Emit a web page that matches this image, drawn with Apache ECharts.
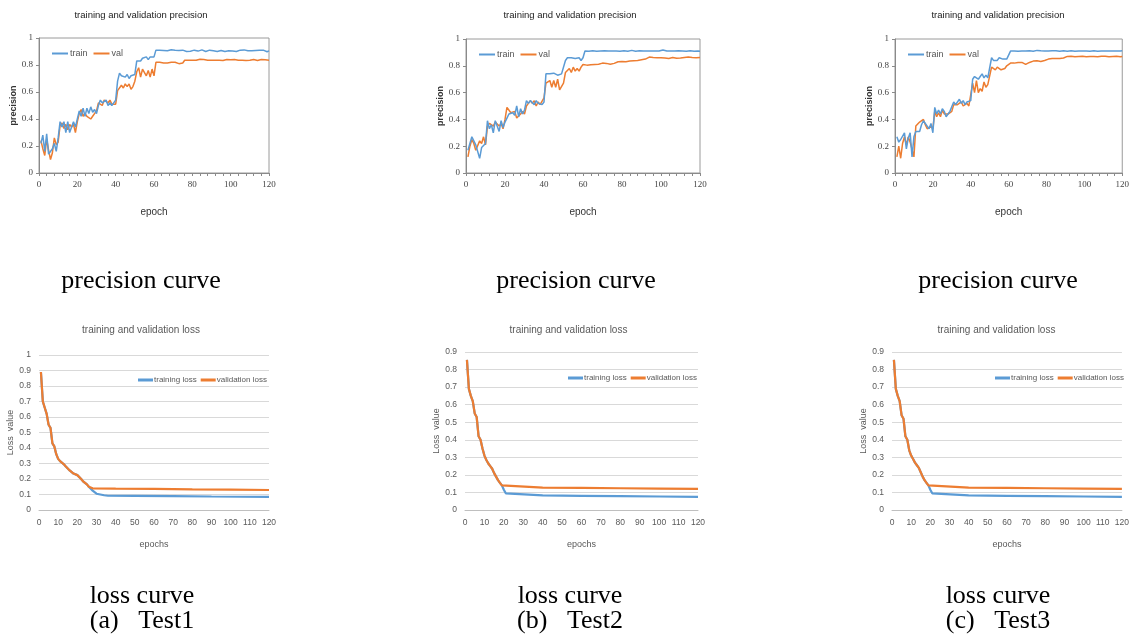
<!DOCTYPE html>
<html>
<head>
<meta charset="utf-8">
<script src="https://cdn.jsdelivr.net/npm/echarts@6/dist/echarts.min.js"></script>
<style>
html,body{margin:0;padding:0;background:#fff;}
#chart{width:1132px;height:637px;}
</style>
</head>
<body>
<div id="chart"></div>
<script>
// ---- epochs shared by the precision curves ----
const epochs = Array.from({length: 120}, (_, i) => i + 1);

// ---- Test1 precision ----
const test1Train = [
  0.22,0.28,0.16,0.29,0.14,0.13,0.18,0.22,0.16,0.26,
  0.38,0.34,0.38,0.30,0.38,0.30,0.34,0.38,0.34,0.40,
  0.46,0.42,0.48,0.42,0.48,0.44,0.49,0.45,0.47,0.44,
  0.50,0.54,0.52,0.51,0.54,0.50,0.52,0.50,0.51,0.54,
  0.68,0.74,0.72,0.73,0.71,0.73,0.70,0.72,0.71,0.73,
  0.83,0.84,0.83,0.85,0.84,0.86,0.84,0.86,0.85,0.86,
  0.91,0.905,0.91,0.903,0.908,0.91,0.905,0.91,0.913,0.915,
  0.91,0.912,0.908,0.905,0.91,0.903,0.90,0.905,0.902,0.905,
  0.91,0.905,0.903,0.91,0.912,0.905,0.90,0.905,0.91,0.903,
  0.905,0.91,0.90,0.905,0.908,0.903,0.90,0.906,0.905,0.91,
  0.903,0.905,0.90,0.908,0.91,0.905,0.912,0.915,0.905,0.903,
  0.905,0.90,0.908,0.905,0.91,0.905,0.91,0.902,0.898,0.905
];
const test1Val = [
  0.24,0.18,0.13,0.25,0.17,0.10,0.15,0.26,0.21,0.23,
  0.35,0.37,0.33,0.36,0.32,0.36,0.34,0.36,0.30,0.38,
  0.44,0.47,0.42,0.44,0.42,0.43,0.40,0.42,0.41,0.46,
  0.52,0.53,0.50,0.54,0.53,0.52,0.54,0.51,0.50,0.51,
  0.61,0.62,0.65,0.63,0.66,0.64,0.66,0.62,0.64,0.68,
  0.75,0.78,0.71,0.77,0.78,0.72,0.76,0.71,0.77,0.72,
  0.82,0.815,0.82,0.81,0.815,0.82,0.815,0.81,0.82,0.815,
  0.82,0.815,0.81,0.82,0.815,0.835,0.84,0.835,0.838,0.835,
  0.84,0.835,0.838,0.843,0.835,0.84,0.833,0.835,0.84,0.835,
  0.838,0.835,0.84,0.835,0.838,0.833,0.836,0.84,0.835,0.838,
  0.835,0.84,0.838,0.835,0.843,0.835,0.838,0.833,0.84,0.835,
  0.838,0.84,0.835,0.833,0.838,0.84,0.835,0.838,0.833,0.836
];

// ---- Test2 precision ----
const test2Train = [
  0.17,0.22,0.27,0.27,0.21,0.20,0.11,0.19,0.18,0.22,
  0.39,0.33,0.36,0.30,0.39,0.38,0.31,0.39,0.34,0.38,
  0.41,0.44,0.43,0.45,0.43,0.50,0.42,0.48,0.44,0.47,
  0.54,0.52,0.54,0.53,0.51,0.54,0.52,0.53,0.51,0.53,
  0.74,0.745,0.74,0.735,0.745,0.74,0.73,0.735,0.74,0.74,
  0.84,0.86,0.85,0.86,0.85,0.855,0.845,0.86,0.84,0.86,
  0.91,0.912,0.908,0.91,0.913,0.91,0.908,0.912,0.91,0.909,
  0.912,0.908,0.91,0.913,0.91,0.908,0.91,0.912,0.909,0.91,
  0.913,0.91,0.908,0.912,0.915,0.91,0.908,0.91,0.912,0.909,
  0.91,0.913,0.91,0.908,0.91,0.912,0.91,0.908,0.91,0.913,
  0.918,0.915,0.91,0.908,0.91,0.912,0.91,0.908,0.912,0.915,
  0.91,0.912,0.908,0.91,0.913,0.91,0.908,0.912,0.91,0.909
];
const test2Val = [
  0.12,0.20,0.25,0.22,0.17,0.18,0.24,0.22,0.27,0.21,
  0.35,0.37,0.38,0.35,0.38,0.37,0.35,0.37,0.33,0.40,
  0.49,0.48,0.45,0.44,0.46,0.41,0.40,0.44,0.46,0.44,
  0.50,0.52,0.54,0.52,0.54,0.50,0.53,0.51,0.52,0.56,
  0.67,0.66,0.69,0.64,0.69,0.64,0.70,0.62,0.61,0.67,
  0.75,0.76,0.78,0.75,0.79,0.76,0.78,0.76,0.79,0.81,
  0.80,0.805,0.81,0.808,0.812,0.81,0.815,0.812,0.818,0.82,
  0.815,0.818,0.81,0.812,0.81,0.818,0.825,0.83,0.828,0.832,
  0.835,0.83,0.838,0.835,0.84,0.838,0.842,0.84,0.838,0.845,
  0.855,0.85,0.86,0.865,0.86,0.862,0.858,0.86,0.855,0.86,
  0.862,0.858,0.86,0.855,0.858,0.862,0.86,0.856,0.86,0.858,
  0.86,0.862,0.858,0.865,0.868,0.862,0.865,0.86,0.866,0.862
];

// ---- Test3 precision ----
const test3Train = [
  0.27,0.23,0.25,0.25,0.30,0.18,0.26,0.30,0.12,0.27,
  0.31,0.32,0.31,0.36,0.39,0.38,0.35,0.33,0.37,0.30,
  0.49,0.44,0.47,0.44,0.48,0.46,0.42,0.44,0.46,0.45,
  0.53,0.51,0.52,0.55,0.52,0.54,0.51,0.53,0.52,0.54,
  0.70,0.72,0.71,0.70,0.72,0.74,0.71,0.73,0.71,0.72,
  0.86,0.84,0.85,0.84,0.86,0.85,0.85,0.84,0.85,0.84,
  0.91,0.915,0.91,0.912,0.908,0.912,0.91,0.913,0.91,0.915,
  0.912,0.91,0.908,0.912,0.915,0.91,0.912,0.908,0.91,0.912,
  0.91,0.908,0.912,0.91,0.913,0.91,0.908,0.91,0.912,0.91,
  0.908,0.91,0.912,0.91,0.908,0.912,0.91,0.913,0.91,0.908,
  0.91,0.912,0.908,0.91,0.912,0.91,0.908,0.912,0.91,0.908,
  0.91,0.912,0.91,0.908,0.91,0.912,0.91,0.908,0.91,0.912
];
const test3Val = [
  0.12,0.20,0.11,0.22,0.27,0.21,0.27,0.23,0.24,0.12,
  0.35,0.36,0.38,0.39,0.40,0.36,0.33,0.34,0.35,0.33,
  0.46,0.42,0.45,0.42,0.47,0.44,0.43,0.44,0.45,0.46,
  0.51,0.50,0.51,0.50,0.53,0.50,0.51,0.52,0.50,0.51,
  0.67,0.60,0.69,0.60,0.63,0.61,0.68,0.64,0.66,0.66,
  0.79,0.78,0.77,0.79,0.78,0.77,0.76,0.78,0.80,0.81,
  0.82,0.825,0.82,0.828,0.825,0.83,0.825,0.815,0.81,0.82,
  0.825,0.83,0.835,0.832,0.838,0.835,0.832,0.835,0.84,0.845,
  0.85,0.852,0.855,0.85,0.855,0.858,0.855,0.86,0.858,0.86,
  0.87,0.868,0.872,0.87,0.868,0.872,0.87,0.868,0.872,0.87,
  0.868,0.872,0.87,0.866,0.87,0.872,0.868,0.87,0.872,0.868,
  0.872,0.87,0.868,0.873,0.87,0.868,0.872,0.87,0.868,0.87
];

// ---- loss curves: epochs where a value is recorded, and the values ----
const test1TrainLossEpochs = [1,2,3,4,5,6,7,8,9,10,11,12,13,14,15,16,17,18,19,20,21,22,23,24,25,26,27,28,29,30,32,34,36,50,70,90,120];
const test1TrainLoss = [0.89,0.70,0.66,0.62,0.55,0.53,0.43,0.41,0.36,0.33,0.315,0.305,0.295,0.28,0.27,0.255,0.245,0.235,0.23,0.225,0.22,0.20,0.185,0.175,0.165,0.15,0.14,0.125,0.115,0.105,0.10,0.095,0.092,0.091,0.089,0.087,0.085];
const test1ValLossEpochs = [1,2,3,4,5,6,7,8,9,10,11,12,13,14,15,16,17,18,19,20,21,22,23,24,25,26,27,28,40,60,80,100,120];
const test1ValLoss = [0.89,0.70,0.66,0.62,0.55,0.53,0.43,0.41,0.36,0.33,0.315,0.305,0.295,0.28,0.27,0.255,0.245,0.235,0.23,0.225,0.22,0.20,0.185,0.175,0.165,0.15,0.14,0.14,0.138,0.136,0.133,0.131,0.129];

const test2TrainLossEpochs = [1,2,3,4,5,6,7,8,9,10,11,12,13,14,15,16,17,18,19,20,21,22,40,60,80,100,120];
const test2TrainLoss = [0.855,0.69,0.65,0.62,0.55,0.53,0.42,0.40,0.35,0.31,0.285,0.265,0.25,0.235,0.21,0.19,0.17,0.155,0.14,0.115,0.095,0.085,0.083,0.081,0.079,0.077,0.075];
const test2ValLossEpochs = [1,2,3,4,5,6,7,8,9,10,11,12,13,14,15,16,17,18,19,20,40,60,80,100,120];
const test2ValLoss = [0.855,0.69,0.65,0.62,0.55,0.53,0.42,0.40,0.35,0.31,0.285,0.265,0.25,0.235,0.21,0.19,0.17,0.155,0.14,0.13,0.128,0.126,0.124,0.122,0.12];

const test3TrainLossEpochs = [1,2,3,4,5,6,7,8,9,10,11,12,13,14,15,16,17,18,19,20,21,22,40,60,80,100,120];
const test3TrainLoss = [0.855,0.69,0.65,0.62,0.54,0.52,0.42,0.40,0.34,0.31,0.29,0.27,0.255,0.24,0.215,0.19,0.17,0.155,0.14,0.115,0.095,0.085,0.083,0.081,0.079,0.077,0.075];
const test3ValLossEpochs = [1,2,3,4,5,6,7,8,9,10,11,12,13,14,15,16,17,18,19,20,40,60,80,100,120];
const test3ValLoss = [0.855,0.69,0.65,0.62,0.54,0.52,0.42,0.40,0.34,0.31,0.29,0.27,0.255,0.24,0.215,0.19,0.17,0.155,0.14,0.13,0.128,0.126,0.124,0.122,0.12];

// ---- text ----
const precisionTitle = 'training and validation precision';
const lossTitle = 'training and validation loss';
const panelCaptions = ['(a)   Test1', '(b)   Test2', '(c)   Test3'];

// ---- styling ----
const BLUE = '#5B9BD5';
const ORANGE = '#ED7D31';
const NARROW = "'Liberation Sans Narrow','Arial Narrow','Liberation Sans',sans-serif";
const SERIF = "'Liberation Serif','Times New Roman',serif";

const pairs = (xs, ys) => xs.map((x, i) => [x, ys[i]]);

// plot rectangles: [left, top, width, height]
const precGrids = [[39, 38, 230, 135], [466, 39, 234, 134], [895, 39, 232, 134]];
const lossGrids = [[39, 355, 230, 155], [465, 352, 233, 158], [892, 352, 235, 158]];
const lossMax = [1, 0.9, 0.9];
const precData = [[test1Train, test1Val], [test2Train, test2Val], [test3Train, test3Val]];
const lossData = [
  [pairs(test1TrainLossEpochs, test1TrainLoss), pairs(test1ValLossEpochs, test1ValLoss)],
  [pairs(test2TrainLossEpochs, test2TrainLoss), pairs(test2ValLossEpochs, test2ValLoss)],
  [pairs(test3TrainLossEpochs, test3TrainLoss), pairs(test3ValLossEpochs, test3ValLoss)]
];

const grid = [], xAxis = [], yAxis = [], series = [], legend = [], graphic = [];

precGrids.forEach((g, i) => {
  const idx = grid.length;
  grid.push({left: g[0], top: g[1], width: g[2], height: g[3], show: true,
    borderColor: '#9a9a9a', borderWidth: 1, backgroundColor: 'transparent'});
  xAxis.push({type: 'value', gridIndex: idx, min: 0, max: 120, interval: 20,
    name: 'epoch', nameLocation: 'middle', nameGap: 34,
    nameTextStyle: {fontFamily: NARROW, fontSize: 10, color: '#333'},
    axisLine: {lineStyle: {color: '#8a8a8a'}},
    axisTick: {show: true, length: 3, lineStyle: {color: '#8a8a8a'}},
    minorTick: {show: true, splitNumber: 5, length: 3, lineStyle: {color: '#8a8a8a'}},
    splitLine: {show: false},
    axisLabel: {fontFamily: SERIF, fontSize: 9, color: '#444', margin: 7}});
  yAxis.push({type: 'value', gridIndex: idx, min: 0, max: 1, interval: 0.2,
    name: 'precision', nameLocation: 'middle', nameGap: 20,
    nameTextStyle: {fontFamily: "'Liberation Sans',sans-serif", fontSize: 9, fontWeight: 'bold', color: '#333'},
    axisLine: {show: true, lineStyle: {color: '#8a8a8a'}},
    axisTick: {show: true, length: 3, lineStyle: {color: '#8a8a8a'}},
    splitLine: {show: false},
    axisLabel: {fontFamily: SERIF, fontSize: 9, color: '#444', margin: 6,
      formatter: v => String(+v.toFixed(1))}});
  const names = ['train' + ' '.repeat(i), 'val' + ' '.repeat(i)];
  [BLUE, ORANGE].forEach((c, k) => {
    series.push({type: 'line', name: names[k], xAxisIndex: idx, yAxisIndex: idx,
      data: pairs(epochs, precData[i][k]), showSymbol: false, symbol: 'none',
      lineStyle: {color: c, width: 1.5}, itemStyle: {color: c}, z: 3 - k});
  });
  legend.push({data: names, left: g[0] + 13, top: g[1] + 11, itemWidth: 16, itemHeight: 2,
    itemGap: 6, icon: 'rect', padding: 0,
    formatter: n => n.trim(),
    textStyle: {fontFamily: NARROW, fontSize: 9, color: '#555', padding: [0, 0, 0, -3]},
    selectedMode: false});
  graphic.push({type: 'text', x: g[0] + g[2] / 2 - 13, y: 15,
    style: {text: precisionTitle, align: 'center', verticalAlign: 'middle',
      font: '9.5px ' + NARROW, fill: '#222'}});
});

lossGrids.forEach((g, i) => {
  const idx = grid.length;
  grid.push({left: g[0], top: g[1], width: g[2], height: g[3]});
  xAxis.push({type: 'value', gridIndex: idx, min: 0, max: 120, interval: 10,
    name: 'epochs', nameLocation: 'middle', nameGap: 30,
    nameTextStyle: {fontFamily: NARROW, fontSize: 9, color: '#595959'},
    axisLine: {lineStyle: {color: '#bfbfbf'}},
    axisTick: {show: false}, splitLine: {show: false},
    axisLabel: {fontFamily: NARROW, fontSize: 8.5, color: '#595959', margin: 8}});
  yAxis.push({type: 'value', gridIndex: idx, min: 0, max: lossMax[i], interval: 0.1,
    name: 'Loss  value', nameLocation: 'middle', nameGap: 22,
    nameTextStyle: {fontFamily: NARROW, fontSize: 9, color: '#595959'},
    axisLine: {show: false}, axisTick: {show: false},
    splitLine: {lineStyle: {color: '#d9d9d9'}},
    axisLabel: {fontFamily: NARROW, fontSize: 8.5, color: '#595959', margin: 8,
      formatter: v => String(+v.toFixed(1))}});
  const names = ['training loss' + ' '.repeat(i), 'validation loss' + ' '.repeat(i)];
  [BLUE, ORANGE].forEach((c, k) => {
    series.push({type: 'line', name: names[k], xAxisIndex: idx, yAxisIndex: idx,
      data: lossData[i][k], showSymbol: false, symbol: 'none',
      lineStyle: {color: c, width: 2.2}, itemStyle: {color: c}, z: 3 + k});
  });
  legend.push({data: names, left: g[0] + 99 + (i ? 4 : 0), top: i ? g[1] + 22 : g[1] + 21,
    itemWidth: 15, itemHeight: 3, itemGap: 4, icon: 'rect', padding: 0,
    formatter: n => n.trim(),
    textStyle: {fontFamily: NARROW, fontSize: 8, color: '#595959', padding: [0, 0, 0, -4]},
    selectedMode: false});
  graphic.push({type: 'text', x: g[0] + g[2] / 2 - 13, y: 330,
    style: {text: lossTitle, align: 'center', verticalAlign: 'middle',
      font: '10px ' + NARROW, fill: '#595959'}});
});

// panel captions
const precCapX = [141, 576, 998];
const lossCapX = [142, 570, 998];
precCapX.forEach((x, i) => {
  graphic.push({type: 'text', x: x, y: 281,
    style: {text: 'precision curve', align: 'center', verticalAlign: 'middle', font: '26px ' + SERIF, fill: '#000'}});
});
lossCapX.forEach((x, i) => {
  graphic.push({type: 'text', x: x, y: 596,
    style: {text: 'loss curve', align: 'center', verticalAlign: 'middle', font: '26px ' + SERIF, fill: '#000'}});
  graphic.push({type: 'text', x: x, y: 621,
    style: {text: panelCaptions[i], align: 'center', verticalAlign: 'middle', font: '26px ' + SERIF, fill: '#000'}});
});

const chart = echarts.init(document.getElementById('chart'), null, {renderer: 'canvas'});
chart.setOption({
  animation: false,
  backgroundColor: '#fff',
  grid, xAxis, yAxis, series, legend, graphic
});
</script>
</body>
</html>
